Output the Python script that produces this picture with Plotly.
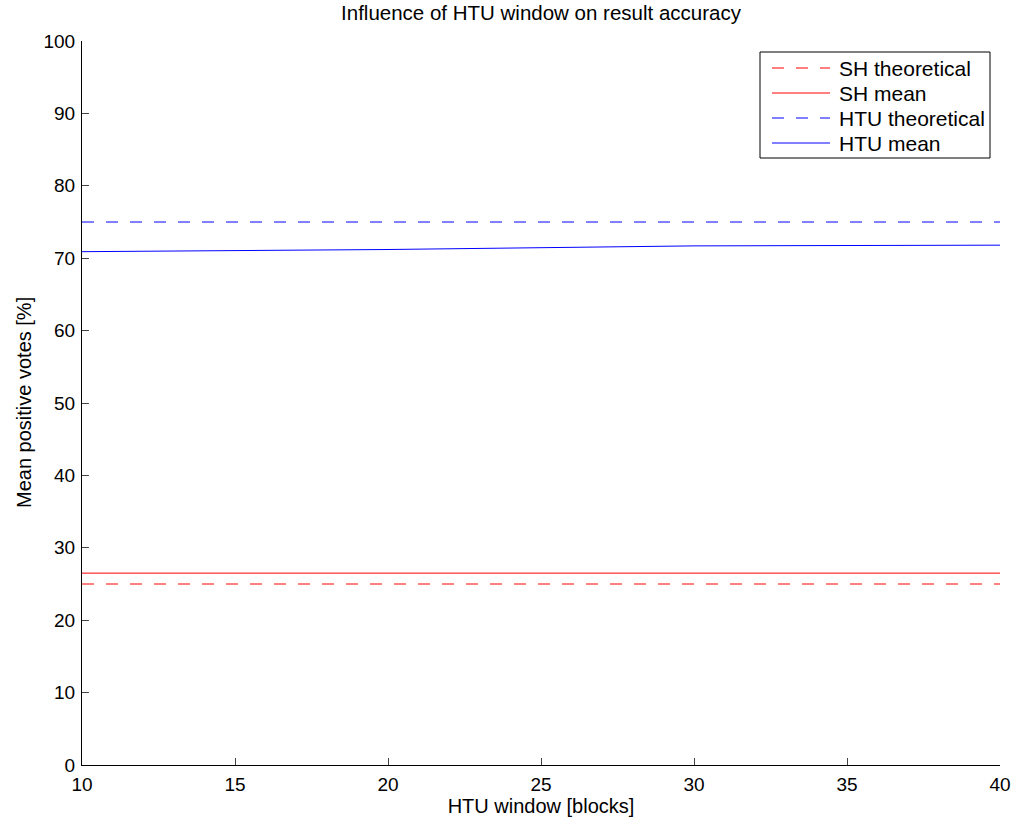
import plotly.graph_objects as go

window = [10, 20, 30, 40]
sh_theoretical = [25, 25, 25, 25]
sh_mean = [26.5, 26.5, 26.5, 26.5]
htu_theoretical = [75, 75, 75, 75]
htu_mean = [70.9, 71.2, 71.7, 71.8]

series_names = ["SH theoretical", "SH mean", "HTU theoretical", "HTU mean"]
series_colors = ["#ff0000", "#ff0000", "#0000ff", "#0000ff"]
series_dash = ["12px,12px", "solid", "12px,12px", "solid"]

x_ticks = [10, 15, 20, 25, 30, 35, 40]
y_ticks = list(range(0, 101, 10))

font = "Liberation Sans, Arial, Helvetica, sans-serif"

W, H = 1019, 825
L, R, T, B = 82, 19, 41, 60
PW, PH = W - L - R, H - T - B


def px(x):
    return (x - L) / PW


def py(y):
    return (H - B - y) / PH


fig = go.Figure()
for name, vals, col, dash in zip(series_names,
                                 [sh_theoretical, sh_mean, htu_theoretical, htu_mean],
                                 series_colors, series_dash):
    fig.add_trace(go.Scatter(x=window, y=vals, mode="lines", name=name,
                             showlegend=False,
                             line=dict(color=col, width=1, dash=dash)))

# Legend box drawn like the MATLAB one
shapes = [dict(type="rect", xref="paper", yref="paper",
               x0=px(760), x1=px(990), y0=py(158), y1=py(52),
               line=dict(color="black", width=1), fillcolor="white", layer="above")]
annotations = []
row_y = [68, 93, 118, 143]
for name, col, dash, ry in zip(series_names, series_colors, series_dash, row_y):
    shapes.append(dict(type="line", xref="paper", yref="paper",
                       x0=px(772), x1=px(830), y0=py(ry), y1=py(ry),
                       line=dict(color=col, width=1, dash=dash), layer="above"))
    annotations.append(dict(text=name, xref="paper", yref="paper",
                            x=px(837), y=py(ry), xanchor="left", yanchor="middle",
                            showarrow=False, font=dict(size=21, family=font, color="black")))

# y-axis title placed like MATLAB's (further from the tick labels)
annotations.append(dict(text="Mean positive votes [%]", xref="paper", yref="paper",
                        x=px(24), y=0.5, xanchor="center", yanchor="middle",
                        textangle=-90, showarrow=False,
                        font=dict(size=20, family=font, color="black")))

fig.update_layout(
    width=W, height=H,
    paper_bgcolor="white", plot_bgcolor="white",
    margin=dict(l=L, r=R, t=T, b=B, autoexpand=False),
    font=dict(family=font, size=19, color="black"),
    title=dict(text="Influence of HTU window on result accuracy", x=0.5, xref="paper",
               xanchor="center", y=1 - 13 / H, yanchor="middle",
               font=dict(size=20.5, family=font)),
    showlegend=False,
    shapes=shapes,
    annotations=annotations,
)
fig.update_xaxes(range=[10, 40], tickvals=x_ticks, ticks="inside", ticklen=7,
                 ticklabelstandoff=2,
                 showline=True, linecolor="black", linewidth=1, mirror=False,
                 showgrid=False, zeroline=False,
                 title=dict(text="HTU window [blocks]", font=dict(size=20), standoff=5))
fig.update_yaxes(range=[0, 100], tickvals=y_ticks, ticks="inside", ticklen=7,
                 ticklabelstandoff=2,
                 showline=True, linecolor="black", linewidth=1, mirror=False,
                 showgrid=False, zeroline=False)

fig.write_html("out.html", config={"displayModeBar": False},
               post_script="document.body.style.margin='0';document.body.style.padding='0';")
